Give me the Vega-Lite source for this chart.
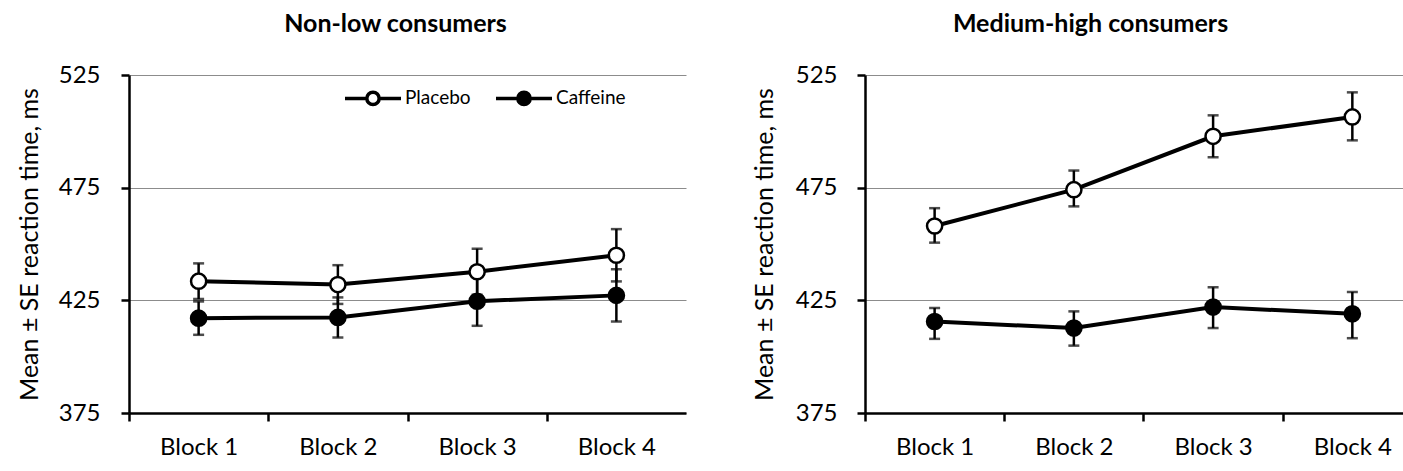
{
  "$schema": "https://vega.github.io/schema/vega-lite/v6.json",
  "padding": {"left": 17, "top": 12, "right": 0, "bottom": 0},
  "background": "white",
  "config": {
    "font": "Lato",
    "view": {"stroke": null},
    "concat": {"spacing": 66},
    "axis": {
      "labelFont": "Lato", "titleFont": "Lato", "labelColor": "black", "titleColor": "black",
      "domainColor": "black", "domainWidth": 2.5, "tickColor": "black", "tickWidth": 2.5,
      "labelFontSize": 24, "titleFontSize": 25, "titleFontWeight": "normal"
    },
    "title": {"font": "Lato", "fontSize": 25, "fontWeight": "bold", "color": "black"}
  },
  "datasets": {
    "d": [
      {"panel": "Non-low consumers", "block": 1, "group": "Placebo", "mean": 433.5, "lo": 425.6, "hi": 441.4},
      {"panel": "Non-low consumers", "block": 2, "group": "Placebo", "mean": 432.0, "lo": 423.4, "hi": 440.6},
      {"panel": "Non-low consumers", "block": 3, "group": "Placebo", "mean": 437.7, "lo": 427.5, "hi": 447.9},
      {"panel": "Non-low consumers", "block": 4, "group": "Placebo", "mean": 445.0, "lo": 433.4, "hi": 456.6},
      {"panel": "Non-low consumers", "block": 1, "group": "Caffeine", "mean": 417.1, "lo": 409.7, "hi": 424.5},
      {"panel": "Non-low consumers", "block": 2, "group": "Caffeine", "mean": 417.4, "lo": 408.5, "hi": 426.3},
      {"panel": "Non-low consumers", "block": 3, "group": "Caffeine", "mean": 424.6, "lo": 413.7, "hi": 435.5},
      {"panel": "Non-low consumers", "block": 4, "group": "Caffeine", "mean": 427.2, "lo": 415.6, "hi": 438.8},
      {"panel": "Medium-high consumers", "block": 1, "group": "Placebo", "mean": 458.0, "lo": 450.6, "hi": 465.9},
      {"panel": "Medium-high consumers", "block": 2, "group": "Placebo", "mean": 474.1, "lo": 466.7, "hi": 482.6},
      {"panel": "Medium-high consumers", "block": 3, "group": "Placebo", "mean": 497.8, "lo": 488.5, "hi": 507.1},
      {"panel": "Medium-high consumers", "block": 4, "group": "Placebo", "mean": 506.4, "lo": 496.0, "hi": 517.3},
      {"panel": "Medium-high consumers", "block": 1, "group": "Caffeine", "mean": 415.6, "lo": 407.9, "hi": 421.6},
      {"panel": "Medium-high consumers", "block": 2, "group": "Caffeine", "mean": 412.7, "lo": 404.9, "hi": 420.1},
      {"panel": "Medium-high consumers", "block": 3, "group": "Caffeine", "mean": 422.0, "lo": 412.7, "hi": 430.8},
      {"panel": "Medium-high consumers", "block": 4, "group": "Caffeine", "mean": 419.0, "lo": 408.2, "hi": 428.7}
    ]
  },
  "hconcat": [
    {
      "title": {"text": "Non-low consumers", "dx": -12, "offset": 26},
      "width": 557,
      "height": 338,
      "data": {"name": "d"},
      "transform": [{"filter": "datum.panel === 'Non-low consumers'"}],
      "encoding": {
        "x": {
          "field": "block", "type": "quantitative",
          "scale": {"domain": [0.5, 4.5], "nice": false, "zero": false},
          "axis": {
            "title": null, "grid": false,
            "values": [0.5, 1, 1.5, 2, 2.5, 3, 3.5, 4, 4.5],
            "labelExpr": "datum.value % 1 === 0 ? 'Block ' + datum.value : ''",
            "tickOpacity": {"condition": {"test": "datum.value % 1 === 0 || datum.value === 4.5", "value": 0}, "value": 1},
            "tickSize": 8, "labelPadding": 14, "labelFlush": false
          }
        }
      },
      "layer": [
        {
          "mark": {"type": "rule", "color": "black", "strokeWidth": 2.5},
          "encoding": {
            "y": {"field": "lo", "type": "quantitative",
              "scale": {"domain": [375, 525], "nice": false, "zero": false},
              "axis": {"title": "Mean ± SE reaction time, ms", "values": [375, 425, 475, 525],
                "grid": true, "gridColor": "#8c8c8c", "gridWidth": 1, "tickSize": 8, "labelPadding": 21, "titlePadding": 16}},
            "y2": {"field": "hi"}
          }
        },
        {
          "mark": {"type": "tick", "orient": "horizontal", "color": "black", "size": 11, "thickness": 2.5},
          "encoding": {"y": {"field": "lo", "type": "quantitative"}}
        },
        {
          "mark": {"type": "tick", "orient": "horizontal", "color": "black", "size": 11, "thickness": 2.5},
          "encoding": {"y": {"field": "hi", "type": "quantitative"}}
        },
        {
          "mark": {"type": "line", "color": "black", "strokeWidth": 4},
          "encoding": {"y": {"field": "mean", "type": "quantitative"}, "detail": {"field": "group"}}
        },
        {
          "mark": {"type": "point", "shape": "circle", "filled": true, "size": 230, "stroke": "black", "strokeWidth": 2.5, "opacity": 1},
          "encoding": {
            "y": {"field": "mean", "type": "quantitative"},
            "fill": {"field": "group", "type": "nominal",
              "scale": {"domain": ["Placebo", "Caffeine"], "range": ["white", "black"]},
              "legend": {"title": null, "orient": "none", "direction": "horizontal", "legendX": 214, "legendY": -7,
                "symbolType": "M-1,0L-0.22,0M0.22,0L1,0M-0.22,0A0.22,0.22,0,1,1,0.22,0A0.22,0.22,0,1,1,-0.22,0Z",
                "symbolSize": 3136, "symbolStrokeColor": "black", "symbolStrokeWidth": 3.5,
                "labelFont": "Lato", "labelFontSize": 19, "labelColor": "black", "columnPadding": 18, "labelOffset": 2}
            }
          }
        }
      ]
    },
    {
      "title": {"text": "Medium-high consumers", "dx": -44, "offset": 26},
      "width": 539,
      "height": 338,
      "data": {"name": "d"},
      "transform": [{"filter": "datum.panel === 'Medium-high consumers'"}],
      "encoding": {
        "x": {
          "field": "block", "type": "quantitative",
          "scale": {"domain": [0.5, 4.371], "nice": false, "zero": false},
          "axis": {
            "title": null, "grid": false,
            "values": [0.5, 1, 1.5, 2, 2.5, 3, 3.5, 4],
            "labelExpr": "datum.value % 1 === 0 ? 'Block ' + datum.value : ''",
            "tickOpacity": {"condition": {"test": "datum.value % 1 === 0", "value": 0}, "value": 1},
            "tickSize": 8, "labelPadding": 14, "labelFlush": false
          }
        }
      },
      "layer": [
        {
          "mark": {"type": "rule", "color": "black", "strokeWidth": 2.5},
          "encoding": {
            "y": {"field": "lo", "type": "quantitative",
              "scale": {"domain": [375, 525], "nice": false, "zero": false},
              "axis": {"title": "Mean ± SE reaction time, ms", "values": [375, 425, 475, 525],
                "grid": true, "gridColor": "#8c8c8c", "gridWidth": 1, "tickSize": 8, "labelPadding": 20, "titlePadding": 18}},
            "y2": {"field": "hi"}
          }
        },
        {
          "mark": {"type": "tick", "orient": "horizontal", "color": "black", "size": 11, "thickness": 2.5},
          "encoding": {"y": {"field": "lo", "type": "quantitative"}}
        },
        {
          "mark": {"type": "tick", "orient": "horizontal", "color": "black", "size": 11, "thickness": 2.5},
          "encoding": {"y": {"field": "hi", "type": "quantitative"}}
        },
        {
          "mark": {"type": "line", "color": "black", "strokeWidth": 4},
          "encoding": {"y": {"field": "mean", "type": "quantitative"}, "detail": {"field": "group"}}
        },
        {
          "mark": {"type": "point", "shape": "circle", "filled": true, "size": 230, "stroke": "black", "strokeWidth": 2.5, "opacity": 1},
          "encoding": {
            "y": {"field": "mean", "type": "quantitative"},
            "fill": {"field": "group", "type": "nominal",
              "scale": {"domain": ["Placebo", "Caffeine"], "range": ["white", "black"]},
              "legend": null}
          }
        }
      ]
    }
  ],
  "resolve": {"scale": {"fill": "independent"}, "legend": {"fill": "independent"}}
}
